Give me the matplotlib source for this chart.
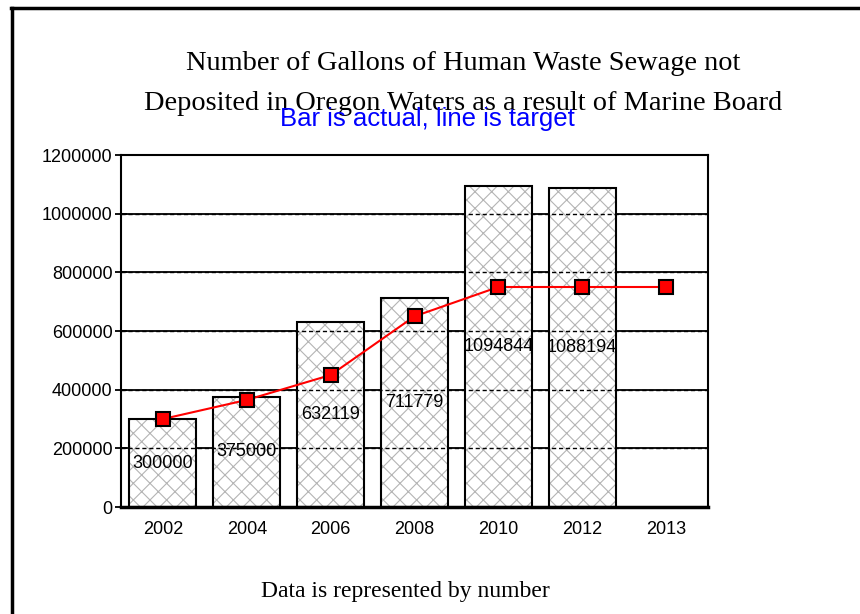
import matplotlib
matplotlib.use("Agg")
import matplotlib.pyplot as plt
from matplotlib.lines import Line2D
import numpy as np

years = ["2002", "2004", "2006", "2008", "2010", "2012", "2013"]
actual = [300000, 375000, 632119, 711779, 1094844, 1088194]
target = [300000, 365000, 450000, 650000, 750000, 750000, 750000]
yticks = [0, 200000, 400000, 600000, 800000, 1000000, 1200000]

plt.rcParams['hatch.linewidth'] = 0.8

fig = plt.figure(figsize=(8.6, 6.14), dpi=100)
ax = fig.add_axes([121/860, 1-507/614, (708-121)/860, (507-155)/614])

x = np.arange(len(years))
xa = x[:len(actual)]

# solid gridlines behind
for v in yticks[1:-1]:
    ax.axhline(v, color='black', lw=1.3, zorder=0)

# hatched fill (light gray hatch)
ax.bar(xa, actual, width=0.8, facecolor='white', edgecolor='#b4b4b4',
       linewidth=0, hatch='xx', zorder=2)
# dashed gridlines visible through bars
for v in yticks[1:-1]:
    ax.axhline(v, color='black', lw=1.0, ls=(0, (3, 2)), zorder=2.5)
# bar outlines
bars = ax.bar(xa, actual, width=0.8, facecolor='none', edgecolor='black',
              linewidth=1.5, zorder=3)

ax.bar_label(bars, labels=[str(v) for v in actual], label_type='center',
             fontsize=13, family='Liberation Sans', zorder=5, padding=0)

ax.plot(x, target, color='red', lw=1.5, marker='s', markersize=10,
        markerfacecolor='red', markeredgecolor='black', markeredgewidth=1.5, zorder=4)

ax.set_xlim(-0.5, len(years) - 0.5)
ax.set_ylim(0, 1200000)
ax.set_yticks(yticks)
ax.set_yticklabels([str(v) for v in yticks], family='Liberation Sans', fontsize=13)
ax.set_xticks(x)
ax.set_xticklabels(years, family='Liberation Sans', fontsize=13)
ax.tick_params(axis='x', length=0, pad=10)
ax.tick_params(axis='y', direction='inout', length=8, width=1.3, pad=2)
for s in ax.spines.values():
    s.set_linewidth(1.5)
ax.spines['bottom'].set_linewidth(2.5)

fig.text(463/860, 1-64/614, "Number of Gallons of Human Waste Sewage not",
         ha='center', va='center', family='Liberation Serif', fontsize=20.4)
fig.text(463/860, 1-104/614, "Deposited in Oregon Waters as a result of Marine Board",
         ha='center', va='center', family='Liberation Serif', fontsize=20.4)
fig.text(427/860, 1-119/614, "Bar is actual, line is target",
         ha='center', va='center', family='Liberation Sans', fontsize=18.5, color='blue')
fig.text(405/860, 1-592/614, "Data is represented by number",
         ha='center', va='center', family='Liberation Serif', fontsize=17)

fig.add_artist(Line2D([12/860, 12/860], [0, 1-8/614], transform=fig.transFigure,
                      color='black', lw=2.5))
fig.add_artist(Line2D([11/860, 1], [1-8/614, 1-8/614], transform=fig.transFigure,
                      color='black', lw=2.5))

fig.savefig("out.png", dpi=100)
